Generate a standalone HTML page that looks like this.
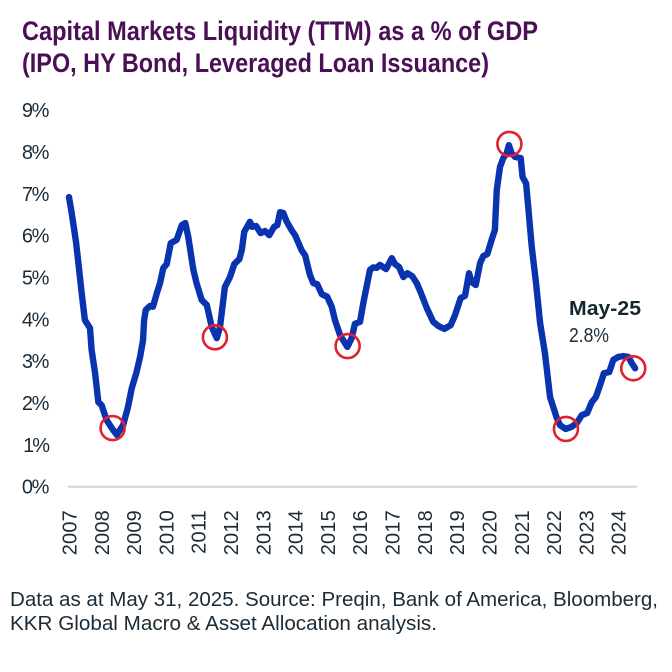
<!DOCTYPE html>
<html lang="en">
<head>
<meta charset="utf-8">
<title>Capital Markets Liquidity</title>
<style>
html,body{margin:0;padding:0;background:#fff;width:672px;height:672px;overflow:hidden}
svg{display:block;font-family:"Liberation Sans",sans-serif}
</style>
</head>
<body>
<svg id="chart" xmlns="http://www.w3.org/2000/svg" width="672" height="672" viewBox="0 0 672 672">
  <rect width="672" height="672" fill="#ffffff"/>
  <text x="22" y="40" font-size="26.5" font-weight="bold" fill="#4a0f55" textLength="516" lengthAdjust="spacingAndGlyphs">Capital Markets Liquidity (TTM) as a % of GDP</text>
  <text x="22" y="72" font-size="26.5" font-weight="bold" fill="#4a0f55" textLength="467" lengthAdjust="spacingAndGlyphs">(IPO, HY Bond, Leveraged Loan Issuance)</text>
  <g id="y-axis"></g>
  <g id="x-axis"></g>
  <g id="series"></g>
  <g id="highlights"></g>
  <text x="569" y="315" font-size="20" font-weight="bold" fill="#14272f" textLength="72" lengthAdjust="spacingAndGlyphs">May-25</text>
  <text x="569" y="342" font-size="20" fill="#1c2b36" textLength="40" lengthAdjust="spacingAndGlyphs">2.8%</text>
  <text x="10" y="606" font-size="20" fill="#1c2b36" textLength="648" lengthAdjust="spacingAndGlyphs">Data as at May 31, 2025. Source: Preqin, Bank of America, Bloomberg,</text>
  <text x="10" y="630" font-size="20" fill="#1c2b36" textLength="427" lengthAdjust="spacingAndGlyphs">KKR Global Macro &amp; Asset Allocation analysis.</text>
</svg>
<script>
const yTicks = [0, 1, 2, 3, 4, 5, 6, 7, 8, 9];
const yearLabels = [2007, 2008, 2009, 2010, 2011, 2012, 2013, 2014, 2015, 2016, 2017, 2018, 2019, 2020, 2021, 2022, 2023, 2024];
const months = [0,1,2.6,3.5,4.7,5.9,7.8,8.4,9.7,10.9,12.1,14,15.9,17.7,20.1,21.9,23.3,25.1,26.4,27.5,27.9,28.5,30.1,31.2,32.6,33.8,35,36.3,37.8,40,41.9,43.2,44.3,46.2,47.4,49.3,51.2,53,54.9,56.1,57.9,59.8,61.4,63.3,64.2,65.1,67.2,68.1,69.5,71.2,72.8,74.4,76.2,77.4,78.4,79.6,80.9,82.7,84,86.4,87.7,89.5,90.8,92.2,93.9,95.9,97.6,98.8,100.7,103.4,105,106.2,108.1,109.3,111.8,113,114.3,115.5,117.8,119.9,121.1,122.6,124.2,125.7,127.5,129.2,130.6,132.9,135.3,137.2,139.4,141.8,143.4,145.5,147.1,148.6,149.6,151.1,152.7,153.9,155.4,157,158.2,158.9,160.1,161.3,162.6,163.4,164.4,165.7,167.8,168.5,169.8,170.6,171.9,173.5,175,176.8,178.7,181.2,182.4,184.5,186.7,188.6,190.5,192.5,194.2,195.7,197.3,198.7,200.7,202.2,204,205.9,207.8,209,210.3];
const liquidity = [6.92,6.54,5.85,5.34,4.63,3.98,3.79,3.27,2.71,2.02,1.95,1.59,1.4,1.24,1.47,1.9,2.35,2.74,3.1,3.5,3.98,4.22,4.32,4.3,4.62,4.86,5.22,5.32,5.82,5.9,6.25,6.3,5.97,5.18,4.86,4.46,4.34,3.82,3.55,3.82,4.77,5.01,5.32,5.44,5.66,6.09,6.33,6.21,6.23,6.06,6.11,6.01,6.21,6.25,6.56,6.54,6.33,6.13,6.01,5.65,5.53,5.06,4.86,4.84,4.6,4.54,4.3,3.98,3.62,3.34,3.55,3.89,3.94,4.38,5.18,5.24,5.23,5.3,5.2,5.46,5.32,5.25,5.01,5.1,5.03,4.86,4.65,4.27,3.94,3.84,3.77,3.86,4.1,4.51,4.56,5.1,4.89,4.82,5.34,5.51,5.56,5.9,6.13,7.09,7.64,7.85,7.97,8.16,7.97,7.88,7.85,7.4,7.25,6.68,5.73,4.86,3.91,3.19,2.14,1.64,1.47,1.38,1.43,1.52,1.71,1.76,2.02,2.14,2.43,2.71,2.74,3.03,3.1,3.12,3.1,2.96,2.83];
const highlightMonths = [16.2, 54.2, 103.5, 163.6, 184.6, 209.6];
const highlightValues = [1.4, 3.57, 3.36, 8.19, 1.38, 2.83];

const NS = 'http://www.w3.org/2000/svg';
const xScale = m => 69 + m * 2.692;
const yScale = v => 486.7 - v * 41.85;

function make(tag, parent, attrs) {
  const el = document.createElementNS(NS, tag);
  for (const k in attrs) el.setAttribute(k, attrs[k]);
  parent.appendChild(el);
  return el;
}

const yAxis = document.getElementById('y-axis');
const xAxis = document.getElementById('x-axis');
const seriesLayer = document.getElementById('series');
const highlightLayer = document.getElementById('highlights');

const baseline = make('line', yAxis, {x1: 68, x2: 637, y1: yScale(0), y2: yScale(0), stroke: '#d4d4d6', 'stroke-width': 2});



yTicks.forEach(t => {
  const label = make('text', yAxis, {x: 48, y: yScale(t) + 7, 'text-anchor': 'end', 'font-size': 20, fill: '#1c2b36', 'letter-spacing': t === 1 ? '-2' : '-1.4'});
  
  
  label.textContent = t + '%';
});

yearLabels.forEach((year, i) => {
  const px = xScale(i * 12) + 7.5;
  const label = make('text', xAxis, {transform: 'translate(' + px + ',510) rotate(-90)', 'text-anchor': 'end', 'font-size': 20, fill: '#1c2b36', 'letter-spacing': '0.2'});
  
  
  label.textContent = year;
});

const d = months.map((m, i) => (i ? 'L' : 'M') + xScale(m).toFixed(2) + ' ' + yScale(liquidity[i]).toFixed(2)).join(' ');
const line = make('path', seriesLayer, {d: d, fill: 'none', stroke: '#0a33b0', 'stroke-width': 6.4, 'stroke-linejoin': 'round', 'stroke-linecap': 'round'});



highlightMonths.forEach((m, i) => {
  const ring = make('circle', highlightLayer, {cx: xScale(m), cy: yScale(highlightValues[i]), r: 12, fill: 'none', stroke: '#e0222e', 'stroke-width': 2.6});
  
  
});
</script>
</body>
</html>
